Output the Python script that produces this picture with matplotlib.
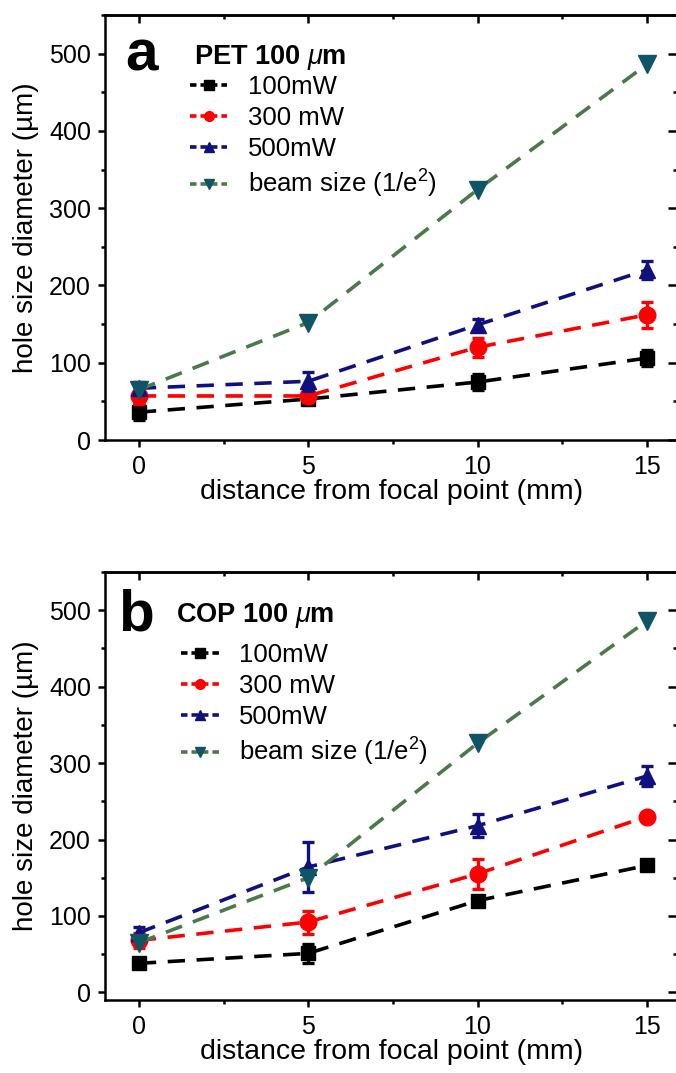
import matplotlib
matplotlib.use("Agg")
import matplotlib.pyplot as plt
from matplotlib.lines import Line2D
from matplotlib.ticker import MultipleLocator

plt.rcParams['font.family'] = ['Liberation Sans', 'DejaVu Sans']
plt.rcParams['mathtext.fontset'] = 'custom'
plt.rcParams['mathtext.it'] = 'Liberation Sans:italic'
plt.rcParams['mathtext.rm'] = 'Liberation Sans'

# ---------------- data ----------------
distance = [0, 5, 10, 15]
labels = ["100mW", "300 mW", "500mW", "beam size (1/e$^2$)"]

pet_100 = [36, 53, 75, 106]
pet_100_err = [10, 6, 10, 10]
pet_300 = [57, 57, 120, 162]
pet_300_err = [10, 8, 12, 17]
pet_500 = [67, 76, 149, 220]
pet_500_err = [8, 12, 8, 12]
pet_beam = [65, 152, 324, 486]

cop_100 = [38, 51, 120, 166]
cop_100_err = [5, 12, 5, 5]
cop_300 = [68, 92, 155, 230]
cop_300_err = [10, 15, 20, 5]
cop_500 = [78, 164, 218, 283]
cop_500_err = [8, 33, 15, 13]
cop_beam = [65, 150, 326, 486]

# ---------------- style ----------------
colors = ['#000000', '#ff0000', '#10107e', '#4a7a4a']
marker_colors = ['#000000', '#ff0000', '#10107e', '#0f5566']
markers = ['s', 'o', '^', 'v']
msizes = [10.5, 12, 11.5, 13]
LS = (0, (4.8, 3.2))

W, H = 676, 1073
fig = plt.figure(figsize=(W / 100, H / 100), dpi=100)


def fx(px):
    return px / W


def fy(px):
    return 1 - px / H


def make_axes(top, bottom, left=105, right=679):
    return fig.add_axes([fx(left), fy(bottom), fx(right) - fx(left), fy(top) - fy(bottom)])


def style_axes(ax, ylim):
    ax.set_xlim(-1, 15.95)
    ax.set_ylim(*ylim)
    ax.xaxis.set_major_locator(MultipleLocator(5))
    ax.xaxis.set_minor_locator(MultipleLocator(2.5))
    ax.yaxis.set_major_locator(MultipleLocator(100))
    ax.yaxis.set_minor_locator(MultipleLocator(50))
    for s in ax.spines.values():
        s.set_linewidth(1.8)
    ax.tick_params(which='major', direction='out', length=5, width=1.8,
                   labelsize=18, pad=5)
    ax.tick_params(axis='x', which='major', pad=6)
    ax.tick_params(which='minor', direction='out', length=3, width=1.8)
    top = ax.secondary_xaxis('top')
    top.xaxis.set_major_locator(MultipleLocator(5))
    top.xaxis.set_minor_locator(MultipleLocator(2.5))
    top.tick_params(which='major', direction='in', length=6, width=1.8, labeltop=False)
    top.tick_params(which='minor', direction='in', length=3, width=1.8)
    top.spines['top'].set_linewidth(1.8)
    right = ax.secondary_yaxis('right')
    right.yaxis.set_major_locator(MultipleLocator(100))
    right.yaxis.set_minor_locator(MultipleLocator(50))
    right.tick_params(which='major', direction='in', length=8, width=1.8, labelright=False)
    right.tick_params(which='minor', direction='in', length=4, width=1.8)
    ax.set_xlabel("distance from focal point (mm)", fontsize=20.5, labelpad=0)
    ax.set_ylabel("hole size diameter (\u00b5m)", fontsize=20, labelpad=7)


def draw_panel(ax, series, errs, letter, title, letter_pos, title_pos, leg_pos):
    for i, (vals, err) in enumerate(zip(series, errs)):
        ax.errorbar(distance, vals, yerr=err, color=colors[i], lw=2.6,
                    linestyle=LS, marker=markers[i], ms=msizes[i],
                    mfc=marker_colors[i], mec=marker_colors[i],
                    ecolor=colors[i] if i < 3 else marker_colors[i],
                    elinewidth=2.4, capsize=4, capthick=2.4, zorder=3 + i)
    ax.text(letter_pos[0], letter_pos[1], letter, transform=ax.transAxes,
            fontsize=42, fontweight='bold', ha='left', va='center')
    ax.text(title_pos[0], title_pos[1], title, transform=ax.transAxes,
            fontsize=19.5, fontweight='bold', ha='left', va='center')
    handles = [Line2D([], [], color=colors[i], lw=2.6, linestyle=(0, (1.8, 1.1)),
                      marker=markers[i], ms=7, mfc=marker_colors[i],
                      mec=marker_colors[i]) for i in range(4)]
    ax.legend(handles, labels, loc='upper left', bbox_to_anchor=leg_pos,
              frameon=False, fontsize=18.5, handlelength=1.45, handletextpad=0.8,
              labelspacing=0.28, borderpad=0, borderaxespad=0)


ax1 = make_axes(15, 440)
style_axes(ax1, (0, 550))
draw_panel(ax1,
           [pet_100, pet_300, pet_500, pet_beam],
           [pet_100_err, pet_300_err, pet_500_err, None],
           'a', 'PET 100 $\\mu$m',
           (0.036, 0.905), (0.155, 0.901), (0.148, 0.86))

ax2 = make_axes(572, 1000)
style_axes(ax2, (-10, 550))
draw_panel(ax2,
           [cop_100, cop_300, cop_500, cop_beam],
           [cop_100_err, cop_300_err, cop_500_err, None],
           'b', 'COP 100 $\\mu$m',
           (0.022, 0.899), (0.123, 0.899), (0.133, 0.835))

fig.savefig("out.png", dpi=100)
